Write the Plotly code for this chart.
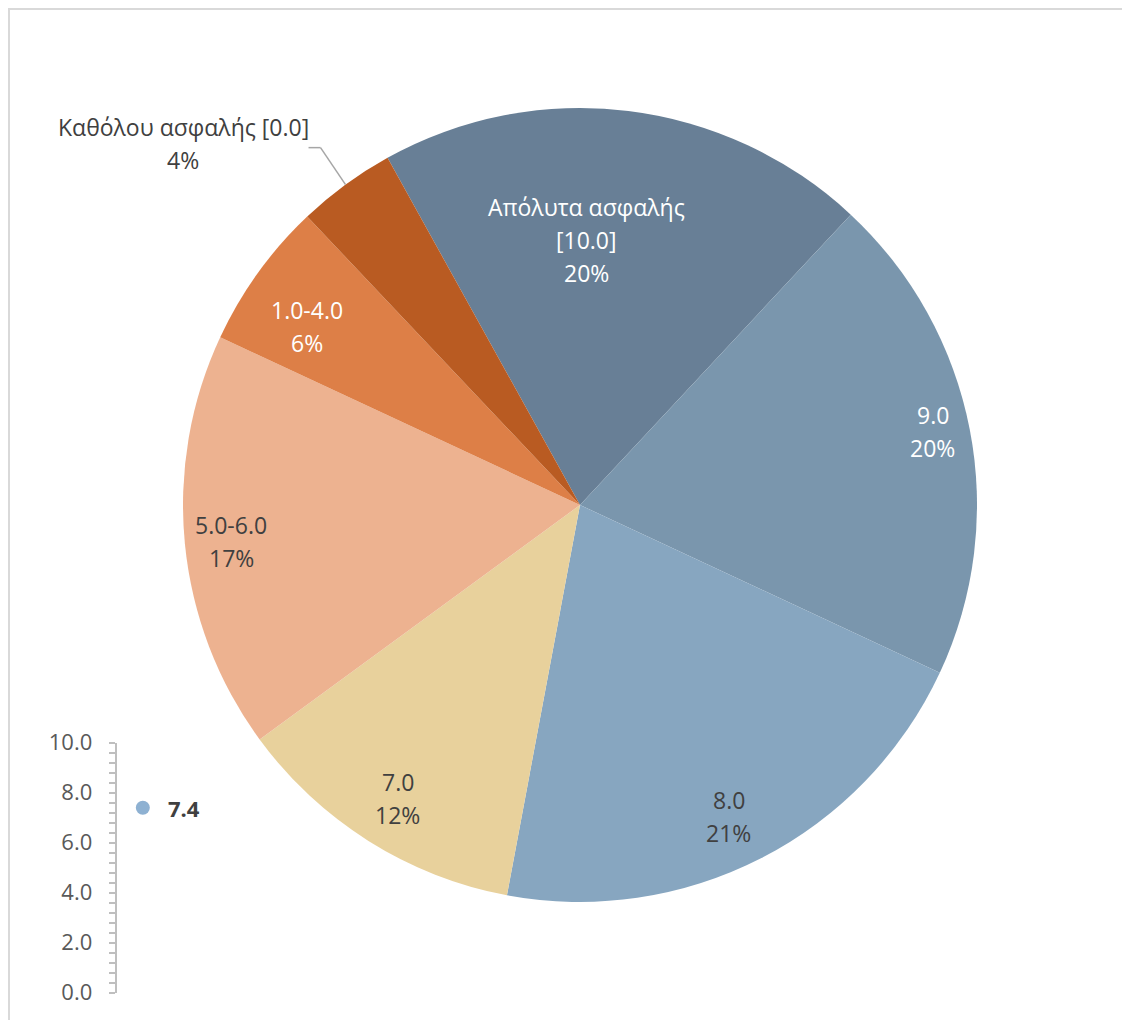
import math
import plotly.graph_objects as go

# ---------------- data ----------------
categories = ["Απόλυτα ασφαλής [10.0]", "9.0", "8.0", "7.0", "5.0-6.0", "1.0-4.0", "Καθόλου ασφαλής [0.0]"]
label_lines = [["Απόλυτα ασφαλής", "[10.0]"], ["9.0"], ["8.0"], ["7.0"], ["5.0-6.0"], ["1.0-4.0"], ["Καθόλου ασφαλής [0.0]"]]
shares = [20, 20, 21, 12, 17, 6, 4]
mean_score = 7.4
scale_ticks = [0.0, 2.0, 4.0, 6.0, 8.0, 10.0]

# ---------------- style ----------------
colors = ["#687f96", "#7a96ad", "#87a6c0", "#e8d19c", "#edb290", "#dd7f47", "#b95b22"]
text_colors = ["#ffffff", "#ffffff", "#404040", "#404040", "#404040", "#ffffff", "#404040"]
label_radius = [0.67, 0.9, 0.87, 0.87, 0.88, 0.82, None]
label_nudge = [(-26, -1), (2, -5), (-9, 4), (2, 1), (-1, 2), (-9, 12), (0, 0)]
FONT = "Open Sans"
FS = 23
LINE = 33

W, H = 1130, 1020
OFF = 8                      # page body margin in the browser
CX, CY, R = 580 - OFF, 505 - OFF, 397   # pie centre / radius (figure pixels)
ROT = -29


def px(x):
    return x / W


def py(y):
    return 1 - y / H


fig = go.Figure()

fig.add_trace(go.Pie(
    labels=categories,
    values=shares,
    sort=False,
    direction="clockwise",
    rotation=ROT,
    marker=dict(colors=colors, line=dict(width=0)),
    textinfo="none",
    hoverinfo="label+percent",
    showlegend=False,
    domain=dict(x=[px(CX - R), px(CX + R)], y=[py(CY + R), py(CY - R)]),
))

annotations = []
total = sum(shares)
cum = 0
for i, v in enumerate(shares):
    mid = ROT + (cum + v / 2) / total * 360
    cum += v
    th = math.radians(mid)
    pct = f"{round(v / total * 100)}%"
    lines = label_lines[i] + [pct]
    if label_radius[i] is not None:
        lx = CX + label_radius[i] * R * math.sin(th) + label_nudge[i][0]
        ly = CY - label_radius[i] * R * math.cos(th) + label_nudge[i][1]
    else:
        ex = CX + R * math.sin(th)
        ey = CY - R * math.cos(th)
        elx, ely = ex - 25, ey - 37
        fig.add_shape(type="line", xref="paper", yref="paper",
                      x0=px(ex), y0=py(ey), x1=px(elx), y1=py(ely),
                      line=dict(color="#a6a6a6", width=1.5))
        fig.add_shape(type="line", xref="paper", yref="paper",
                      x0=px(elx), y0=py(ely), x1=px(elx - 12), y1=py(ely),
                      line=dict(color="#a6a6a6", width=1.5))
        lx, ly = ex - 162.5, ey - 41
    n = len(lines)
    for k, t in enumerate(lines):
        yy = ly + (k - (n - 1) / 2) * LINE
        annotations.append(dict(
            x=px(lx), y=py(yy), xref="paper", yref="paper",
            text=t, showarrow=False, xanchor="center", yanchor="middle",
            font=dict(family=FONT, size=FS, color=text_colors[i]),
        ))

# ---------------- small score scale ----------------
AX = 115.7 - OFF
MX = 0.24
fig.add_trace(go.Scatter(
    x=[MX], y=[mean_score], xaxis="x2", yaxis="y2",
    mode="markers",
    marker=dict(size=14, color="#8eb1d2"),
    showlegend=False, hoverinfo="skip", cliponaxis=False,
))
annotations.append(dict(
    x=MX, y=mean_score, xref="x2", yref="y2", xshift=23,
    text=f"<b>{mean_score:.1f}</b>", showarrow=False,
    xanchor="left", yanchor="middle",
    font=dict(family=FONT, size=22, color="#404040"),
))

y2_dom = [py(992.7 - OFF), py(742.7 - OFF)]
fig.update_layout(
    width=W, height=H,
    margin=dict(l=0, r=0, t=0, b=0, autoexpand=False),
    paper_bgcolor="white", plot_bgcolor="rgba(0,0,0,0)",
    annotations=annotations,
    xaxis=dict(visible=False),
    yaxis=dict(visible=False),
    xaxis2=dict(domain=[px(AX), px(AX + 113)], range=[0, 1], visible=False, anchor="y2"),
    yaxis2=dict(domain=y2_dom, range=[0, 10], anchor="free", position=px(AX),
                tickvals=scale_ticks, ticktext=[f"{t:.1f}" for t in scale_ticks],
                showline=True, linecolor="#bfbfbf", linewidth=2,
                ticks="outside", ticklen=6, tickwidth=2, tickcolor="#bfbfbf",
                minor=dict(dtick=0.4, tick0=0, ticks="outside", ticklen=6, tickwidth=2, tickcolor="#bfbfbf"),
                showgrid=False, zeroline=False, ticklabelstandoff=12,
                tickfont=dict(family=FONT, size=22, color="#595959")),
    yaxis3=dict(overlaying="y2", range=[0, 10], anchor="free", position=px(AX),
                tickvals=scale_ticks, showticklabels=False, showline=False,
                ticks="inside", ticklen=7, tickwidth=2, tickcolor="#bfbfbf",
                showgrid=False, zeroline=False),
)

# outer chart border
fig.add_shape(type="rect", xref="paper", yref="paper",
              x0=px(1), y0=-0.02, x1=1.02, y1=py(1),
              line=dict(color="#d9d9d9", width=2), layer="below")

fig.write_html("out.html")
